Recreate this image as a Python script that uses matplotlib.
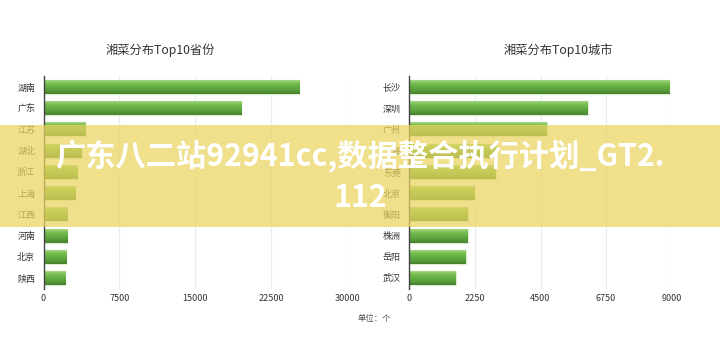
import matplotlib
matplotlib.use("Agg")
import matplotlib.pyplot as plt
import numpy as np
from matplotlib.colors import LinearSegmentedColormap
from matplotlib.patches import Rectangle

plt.rcParams['font.family'] = ['Noto Sans CJK SC', 'DejaVu Sans']

# ---- data ----
prov_title = "湘菜分布Top10省份"
provinces = ["湖南", "广东", "江苏", "湖北", "浙江", "上海", "江西", "河南", "北京", "陕西"]
prov_values = [25300, 19550, 4100, 3700, 3270, 3100, 2350, 2290, 2220, 2150]
prov_ticks = [0, 7500, 15000, 22500, 30000]

city_title = "湘菜分布Top10城市"
cities = ["长沙", "深圳", "广州", "上海", "东莞", "北京", "衡阳", "株洲", "岳阳", "武汉"]
city_values = [8920, 6120, 4710, 3000, 2960, 2230, 2000, 2000, 1935, 1590]
city_ticks = [0, 2250, 4500, 6750, 9000]

unit_text = "单位：个"
watermark_lines = ["广东八二站92941cc,数据整合执行计划_GT2.", "112"]

W, H = 720, 352
fig = plt.figure(figsize=(W / 100, H / 100), dpi=100)
fig.patch.set_facecolor('white')

cmap = LinearSegmentedColormap.from_list(
    "bar", ["#b5e09a", "#86c65f", "#6cb548", "#60a93f", "#56993a", "#447f2e"])
grad = np.linspace(0, 1, 64).reshape(-1, 1)


def draw(rect, cats, vals, ticks, title, title_x):
    ax = fig.add_axes(rect)
    y = np.arange(len(cats))
    bars = ax.barh(y, vals, height=0.66, color="#6ab446",
                   edgecolor="#dcefd0", linewidth=1.0, zorder=2)
    for b in bars:
        x0, y0, w, h = b.get_x(), b.get_y(), b.get_width(), b.get_height()
        im = ax.imshow(grad, extent=(x0, x0 + w, y0 + h, y0), origin='upper',
                       aspect='auto', cmap=cmap, zorder=3, interpolation='bilinear')
        im.set_clip_path(b)
    ax.set_xlim(ticks[0], ticks[-1])
    ax.set_ylim(len(cats) - 0.5, -0.5)
    ax.set_yticks(y)
    ax.set_yticklabels(cats, fontsize=6.5, color="#333333")
    ax.set_xticks(ticks)
    ax.set_xticklabels([str(t) for t in ticks], fontsize=6.5, color="#333333")
    ax.tick_params(axis='both', length=0)
    ax.tick_params(axis='y', pad=6)
    ax.tick_params(axis='x', pad=4)
    ax.grid(axis='x', color="#ececec", linewidth=0.8, zorder=0)
    ax.set_axisbelow(True)
    for s in ['top', 'right', 'bottom']:
        ax.spines[s].set_visible(False)
    ax.spines['left'].set_color("#444444")
    ax.spines['left'].set_linewidth(1.0)
    ax.spines['left'].set_zorder(5)
    fig.text(title_x / W, 1 - 50 / H, title, fontsize=8.8, color="#333333",
             ha='center', va='center')
    return ax


top, bottom = 76.4, 288.6
draw([43.5 / W, 1 - bottom / H, (347 - 43.5) / W, (bottom - top) / H],
     provinces, prov_values, prov_ticks, prov_title, 160)
draw([409.3 / W, 1 - bottom / H, (671.7 - 409.3) / W, (bottom - top) / H],
     cities, city_values, city_ticks, city_title, 558)

fig.text(374 / W, 1 - 318 / H, unit_text, fontsize=6, color="#555555",
         ha='center', va='center')

# watermark band
band = Rectangle((0, 1 - 227 / H), 1, (227 - 125) / H, transform=fig.transFigure,
                 facecolor=(235 / 255, 212 / 255, 95 / 255), alpha=0.72,
                 edgecolor='none', zorder=10)
fig.patches.append(band)
fig.text(0.5, 1 - 157 / H, watermark_lines[0], fontsize=21.8, fontweight='bold',
         color='white', ha='center', va='center', zorder=11)
fig.text(0.5, 1 - 198 / H, watermark_lines[1], fontsize=21.8, fontweight='bold',
         color='white', ha='center', va='center', zorder=11)

fig.savefig("out.png", dpi=100)
